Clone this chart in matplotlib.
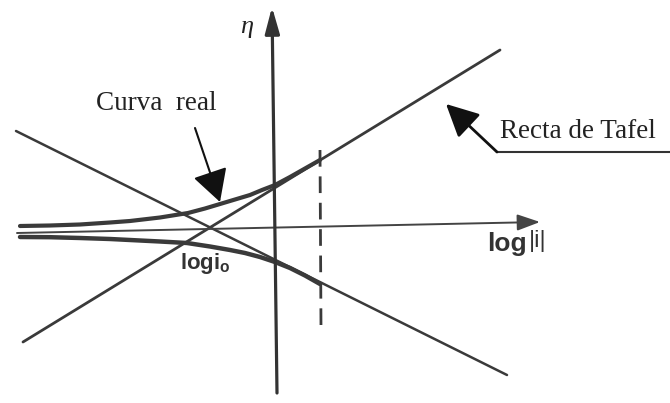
import matplotlib
matplotlib.use("Agg")
import matplotlib.pyplot as plt

# ---- data (x = log|i|, y = eta, arbitrary units) ----
tafel_anodic_x = [-5.04, 4.50]
tafel_anodic_eta = [-2.30, 3.54]
tafel_cathodic_x = [-5.18, 4.64]
tafel_cathodic_eta = [1.92, -2.96]

real_upper_x = [-5.10, -4.50, -3.90, -3.30, -2.90, -2.30, -1.74, -1.40, -1.10,
                -0.80, -0.50, -0.26, 0.00, 0.30, 0.60, 0.90]
real_upper_eta = [0.02, 0.03, 0.05, 0.09, 0.12, 0.19, 0.28, 0.37, 0.46,
                  0.55, 0.64, 0.74, 0.84, 1.00, 1.17, 1.34]
real_lower_x = [-5.10, -4.50, -3.90, -3.30, -2.90, -2.30, -1.76, -1.30, -0.90,
                -0.60, -0.30, 0.00, 0.30, 0.60, 0.90]
real_lower_eta = [-0.20, -0.204, -0.22, -0.24, -0.26, -0.29, -0.32, -0.39, -0.46,
                  -0.52, -0.60, -0.70, -0.82, -0.97, -1.14]

axis_h_x = [-5.16, 5.30]
axis_h_eta = [-0.12, 0.10]
axis_v_x = [0.04, -0.06]
axis_v_eta = [-3.32, 4.40]

dashed_x = [0.90, 0.92]
dashed_eta = [1.54, -2.02]

label_eta = "η"
label_log = "log"
label_abs_i = "|i|"
label_logi0 = r"logi$_\mathregular{o}$"
label_curva = "Curva  real"
label_tafel = "Recta de Tafel"

col = "#3a3a3a"

fig = plt.figure(figsize=(6.7, 4.03), dpi=100)
ax = fig.add_axes([0, 0, 1, 1])
ax.set_xlim(-5.5, 7.9)
ax.set_ylim(-3.52, 4.54)
ax.axis("off")

# axes with arrows
ax.annotate("", xy=(axis_h_x[1], axis_h_eta[1]), xytext=(axis_h_x[0], axis_h_eta[0]),
            arrowprops=dict(arrowstyle="-|>,head_length=0.7,head_width=0.25", color="#444444",
                            lw=1.4, mutation_scale=20, shrinkA=0, shrinkB=0))
ax.annotate("", xy=(axis_v_x[1], axis_v_eta[1]), xytext=(axis_v_x[0], axis_v_eta[0]),
            arrowprops=dict(arrowstyle="-|>,head_length=0.8,head_width=0.22", color="#333333",
                            lw=2.3, mutation_scale=20, shrinkA=0, shrinkB=0))

# Tafel lines
ax.plot(tafel_anodic_x, tafel_anodic_eta, color=col, lw=2.0, solid_capstyle="round")
ax.plot(tafel_cathodic_x, tafel_cathodic_eta, color=col, lw=1.8, solid_capstyle="round")

# real curves
ax.plot(real_upper_x, real_upper_eta, color=col, lw=3.0, solid_capstyle="round",
        solid_joinstyle="round")
ax.plot(real_lower_x, real_lower_eta, color=col, lw=3.2, solid_capstyle="round",
        solid_joinstyle="round")

# dashed vertical
ax.plot(dashed_x, dashed_eta, color=col, lw=2.0, dashes=(6, 3.5))

# labels
ax.text(-0.56, 4.0, label_eta, fontsize=19, family="Liberation Serif", style="italic",
        color="#222222", ha="center", va="center")
ax.text(4.24, -0.47, label_log, fontsize=19, family="Liberation Sans", weight="bold",
        color="#333333", ha="left", va="baseline")
ax.text(5.08, -0.40, label_abs_i, fontsize=17, family="Liberation Sans",
        color="#333333", ha="left", va="baseline")
ax.text(-1.40, -0.72, label_logi0, fontsize=16, family="Liberation Sans", weight="bold",
        color="#333333", ha="center", va="center")
ax.text(-2.38, 2.46, label_curva, fontsize=19.5, family="Liberation Serif",
        color="#222222", ha="center", va="center")
ax.text(6.06, 1.90, label_tafel, fontsize=19.5, family="Liberation Serif",
        color="#222222", ha="center", va="center")

# Curva real arrow
ax.annotate("", xy=(-1.10, 0.50), xytext=(-1.60, 1.98),
            arrowprops=dict(arrowstyle="-|>,head_length=1.0,head_width=0.55", color="#111111",
                            lw=1.5, mutation_scale=20, shrinkA=0, shrinkB=0))
# Recta de Tafel callout
ax.plot([4.44, 7.9], [1.50, 1.50], color="#333333", lw=1.5)
ax.annotate("", xy=(3.42, 2.46), xytext=(4.44, 1.50),
            arrowprops=dict(arrowstyle="-|>,head_length=1.0,head_width=0.5", color="#111111",
                            lw=2.0, mutation_scale=20, shrinkA=0, shrinkB=0))

fig.savefig("out.png", dpi=100, facecolor="white")
